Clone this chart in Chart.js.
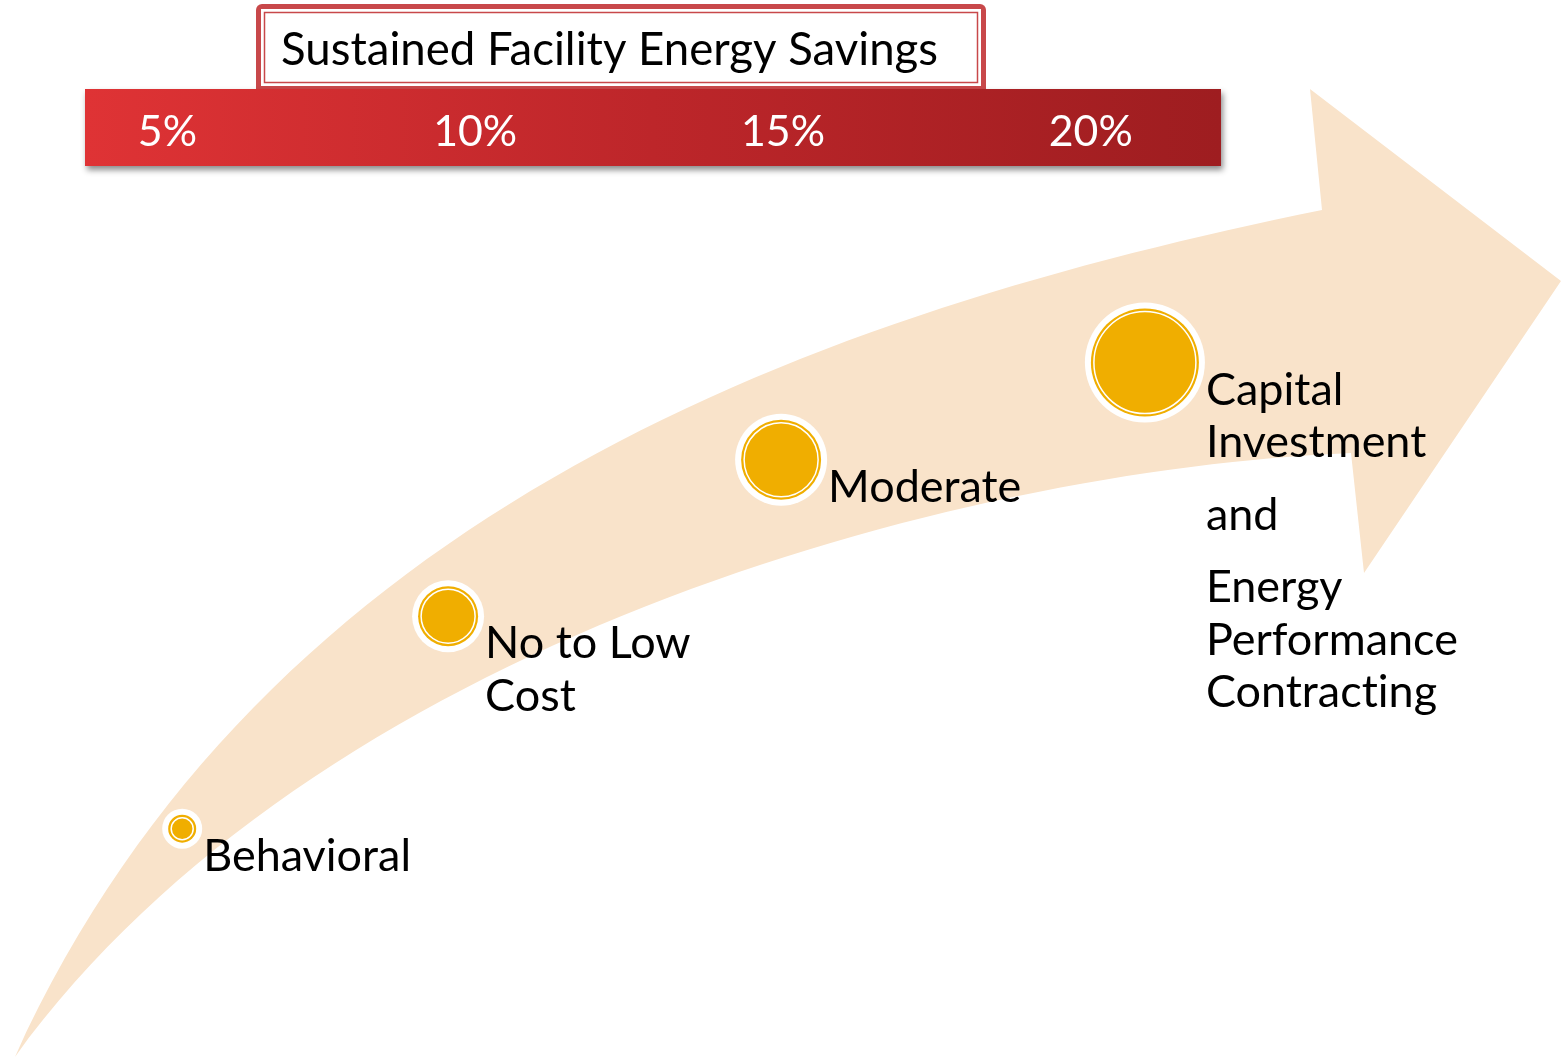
<!DOCTYPE html>
<html lang="en">
<head>
    <meta charset="UTF-8">
    <title>Sustained Facility Energy Savings</title>
    <script src="https://cdn.jsdelivr.net/npm/chart.js@4.4.1/dist/chart.umd.min.js"></script>
    <style>
        * {
            margin: 0;
            padding: 0;
            box-sizing: border-box;
        }

        body {
            background: #ffffff;
        }

        .chart-wrap {
            position: relative;
            width: 1561px;
            height: 1057px;
        }
    </style>
</head>
<body>
    <div class="chart-wrap">
        <canvas id="savingsChart"></canvas>
    </div>

    <script>
        // savings scale (percent) along the bar and the stages placed on the arrow
        const stages = ['Behavioral', 'No to Low Cost', 'Moderate', 'Capital Investment and Energy Performance Contracting'];
        const savings = [5.24, 9.56, 14.97, 20.88];
        const heights = [21.6, 41.7, 56.5, 65.7];
        const bubbleSize = [20, 36, 46, 60];
        const tickValues = [5, 10, 15, 20];
        const tickLabels = ['5%', '10%', '15%', '20%'];
        const titleText = 'Sustained Facility Energy Savings';

        // line breaks of each stage label, null = paragraph gap
        const labelLines = [
            ['Behavioral'],
            ['No to Low', 'Cost'],
            ['Moderate'],
            ['Capital', 'Investment', null, 'and', null, 'Energy', 'Performance', 'Contracting']
        ];

        const FONT = 'Lato, "Open Sans", sans-serif';
        const BASE_W = 1561, BASE_H = 1057;

        function fitSize(ctx, text, width) {
            ctx.font = '400 100px ' + FONT;
            return 100 * width / ctx.measureText(text).width;
        }

        // one layer of a bubble: white halo, yellow ring, yellow core with white gap
        function layer(offset, fill, border, bw) {
            return {
                data: savings.map((s, i) => ({ x: s, y: heights[i], r: bubbleSize[i] - offset })),
                backgroundColor: fill,
                borderColor: border,
                borderWidth: bw
            };
        }

        // the curved arrow behind the bubbles
        const arrowBackdrop = {
            id: 'arrowBackdrop',
            beforeDatasetsDraw(chart) {
                const { ctx, chartArea } = chart;
                ctx.save();
                ctx.translate(chartArea.left, chartArea.top);
                ctx.scale(chartArea.width / BASE_W, chartArea.height / BASE_H);
                ctx.beginPath();
                ctx.moveTo(15, 1057);
                ctx.bezierCurveTo(265, 507, 822, 312, 1322, 210);
                ctx.lineTo(1310, 89);
                ctx.lineTo(1561, 281);
                ctx.lineTo(1364, 573);
                ctx.lineTo(1351, 453);
                ctx.bezierCurveTo(951, 470, 315, 644, 15, 1057);
                ctx.closePath();
                ctx.fillStyle = '#F9E3CA';
                ctx.fill();
                ctx.restore();
            }
        };

        // title tab and red savings bar with percent ticks from the x scale
        const savingsHeader = {
            id: 'savingsHeader',
            afterDatasetsDraw(chart) {
                const { ctx, chartArea } = chart;
                const x = chart.scales.x;
                const sx = chartArea.width / BASE_W, sy = chartArea.height / BASE_H;
                ctx.save();
                ctx.translate(chartArea.left, chartArea.top);
                ctx.scale(sx, sy);

                // title tab
                ctx.fillStyle = '#C8484A';
                ctx.beginPath();
                ctx.roundRect(256, 4, 730, 90, [6, 6, 0, 0]);
                ctx.fill();
                ctx.fillStyle = '#ffffff';
                ctx.fillRect(261, 9, 720, 77);
                ctx.strokeStyle = '#C8484A';
                ctx.lineWidth = 1.5;
                ctx.strokeRect(264.5, 12.5, 713, 70);

                ctx.letterSpacing = '0.01px';
                const tSize = fitSize(ctx, titleText, 657);
                ctx.font = '400 ' + tSize + 'px ' + FONT;
                ctx.fillStyle = '#000000';
                ctx.textAlign = 'left';
                ctx.textBaseline = 'alphabetic';
                ctx.fillText(titleText, 281, 65);

                // red bar
                const grad = ctx.createLinearGradient(85, 0, 1221, 0);
                grad.addColorStop(0, '#DF3335');
                grad.addColorStop(0.5, '#BD262A');
                grad.addColorStop(1, '#9E1D20');
                ctx.save();
                ctx.shadowColor = 'rgba(0,0,0,0.45)';
                ctx.shadowBlur = 6;
                ctx.shadowOffsetX = 2;
                ctx.shadowOffsetY = 4;
                ctx.fillStyle = grad;
                ctx.fillRect(85, 89, 1136, 77);
                ctx.restore();
                ctx.restore();

                // percent labels placed on the x scale
                ctx.save();
                const pSize = fitSize(ctx, '10%', 84) * sy;
                ctx.font = '400 ' + pSize + 'px ' + FONT;
                ctx.fillStyle = '#ffffff';
                ctx.textAlign = 'center';
                ctx.textBaseline = 'alphabetic';
                tickValues.forEach((v, i) => {
                    ctx.fillText(tickLabels[i], x.getPixelForValue(v), chartArea.top + 146 * sy);
                });
                ctx.restore();
            }
        };

        // stage names next to each bubble
        const stageLabels = {
            id: 'stageLabels',
            afterDatasetsDraw(chart) {
                const { ctx, chartArea } = chart;
                const sy = chartArea.height / BASE_H;
                ctx.save();
                ctx.letterSpacing = '0.01px';
                const size = fitSize(ctx, 'Performance', 252) * sy;
                const lineH = 52.5 * sy, gapH = 20 * sy;
                ctx.font = '400 ' + size + 'px ' + FONT;
                ctx.fillStyle = '#000000';
                ctx.textAlign = 'left';
                ctx.textBaseline = 'alphabetic';
                stages.forEach((name, i) => {
                    const px = chart.scales.x.getPixelForValue(savings[i]) + bubbleSize[i] + 1;
                    let py = chart.scales.y.getPixelForValue(heights[i]) + 42 * sy;
                    labelLines[i].forEach(line => {
                        if (line === null) { py += gapH; return; }
                        ctx.fillText(line, px, py);
                        py += lineH;
                    });
                });
                ctx.restore();
            }
        };

        // datasets listed top layer first (Chart.js paints the first one last)
        new Chart(document.getElementById('savingsChart'), {
            type: 'bubble',
            data: {
                labels: stages,
                datasets: [
                    layer(9, '#F0AE00', '#ffffff', 1.5),
                    layer(6, '#F0AE00', '#F0AE00', 0),
                    layer(0, '#ffffff', '#ffffff', 0)
                ]
            },
            options: {
                responsive: true,
                maintainAspectRatio: false,
                animation: false,
                events: [],
                layout: { padding: 0, autoPadding: false },
                scales: {
                    x: { type: 'linear', display: false, min: 2.28, max: 27.64 },
                    y: { type: 'linear', display: false, min: 0, max: 100 }
                },
                plugins: {
                    legend: { display: false },
                    tooltip: { enabled: false }
                }
            },
            plugins: [arrowBackdrop, savingsHeader, stageLabels]
        });
    </script>
</body>
</html>
